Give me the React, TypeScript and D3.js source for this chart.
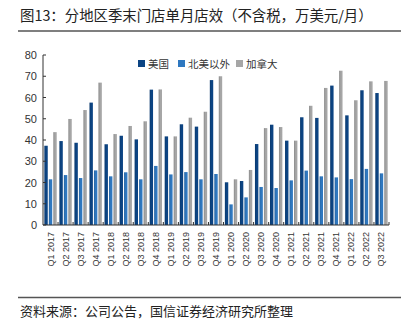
import React from "react";
import * as d3 from "d3";

const categories = [
  "Q1 2017", "Q2 2017", "Q3 2017", "Q4 2017",
  "Q1 2018", "Q2 2018", "Q3 2018", "Q4 2018",
  "Q1 2019", "Q2 2019", "Q3 2019", "Q4 2019",
  "Q1 2020", "Q2 2020", "Q3 2020", "Q4 2020",
  "Q1 2021", "Q2 2021", "Q3 2021", "Q4 2021",
  "Q1 2022", "Q2 2022", "Q3 2022",
];
const usValues = [37.3, 39.5, 38.7, 57.6, 38.0, 42.0, 40.3, 63.7, 41.7, 47.4, 46.3, 68.2, 20.1, 20.7, 38.1, 47.2, 39.7, 50.7, 50.4, 65.6, 51.6, 63.4, 62.1];
const intlValues = [21.5, 23.5, 22.1, 25.7, 22.9, 24.8, 21.5, 27.8, 23.8, 24.9, 21.5, 24.0, 9.7, 13.0, 17.9, 17.4, 21.0, 25.6, 22.9, 22.4, 21.6, 26.4, 24.3];
const caValues = [43.7, 49.9, 54.1, 67.0, 42.8, 46.6, 48.8, 63.8, 41.7, 50.5, 53.3, 70.0, 21.5, 25.9, 45.6, 46.1, 39.7, 56.1, 64.5, 72.6, 58.7, 67.6, 67.8];
const seriesNames = ["美国", "北美以外", "加拿大"];
const yTicks = [0, 10, 20, 30, 40, 50, 60, 70, 80];

const colors = ["#0c4483", "#2f78c0", "#a6a6a6"];
const FONT = "Arial, 'Liberation Sans', 'Noto Sans CJK SC', sans-serif";
const CJK = "'Noto Sans CJK SC', sans-serif";

export default function App() {
  const W = 401, H = 332;
  const left = 43, right = 389, top = 55, bottom = 225;
  const x = d3.scaleBand<string>().domain(categories).range([left, right]).paddingInner(0).paddingOuter(0);
  const inner = d3.scaleBand<number>().domain([0, 1, 2]).range([0, x.bandwidth()]).paddingInner(0).paddingOuter(0.18);
  const y = d3.scaleLinear().domain([0, 80]).range([bottom, top]);
  const series = [usValues, intlValues, caValues];
  const bw = 3.4;
  const legendX = [138, 178, 236];

  return (
    <svg width={W} height={H} style={{ position: "absolute", left: 0, top: 0, background: "#fff" }}>
      <defs>
        {colors.map((c, i) => (
          <linearGradient key={i} id={`g${i}`} x1="0" x2="1" y1="0" y2="0">
            <stop offset="0" stopColor={d3.color(c)!.darker(0.5).toString()} />
            <stop offset="0.5" stopColor={c} />
            <stop offset="1" stopColor={c} />
          </linearGradient>
        ))}
      </defs>
      <text x={20} y={21} fontFamily={CJK} fontSize={14.4} fill="#222">图13：分地区季末门店单月店效（不含税，万美元/月）</text>
      <line x1={18} x2={401} y1={31} y2={31} stroke="#555" strokeWidth={1.3} />

      {categories.map((c, i) =>
        series.map((s, k) => {
          const bx = (x(c) as number) + (inner(k) as number) + (inner.bandwidth() - bw) / 2;
          return (
            <rect key={`${i}-${k}`} x={bx} y={y(s[i])} width={bw} height={bottom - y(s[i])} fill={`url(#g${k})`} />
          );
        })
      )}

      <line x1={left} x2={left} y1={top} y2={bottom} stroke="#333" strokeWidth={1} />
      {yTicks.map((t) => (
        <g key={t}>
          <line x1={left} x2={left + 3} y1={y(t)} y2={y(t)} stroke="#333" />
          <text x={37} y={y(t) + 4} textAnchor="end" fontFamily={FONT} fontSize={11} fill="#333">{t}</text>
        </g>
      ))}

      <line x1={left} x2={right} y1={bottom} y2={bottom} stroke="#333" strokeWidth={1.2} />
      {categories.map((c, i) => (
        <line key={`t${i}`} x1={(x(c) as number) + x.bandwidth()} x2={(x(c) as number) + x.bandwidth()} y1={bottom} y2={bottom - 3} stroke="#333" />
      ))}
      {categories.map((c) => {
        const cx = (x(c) as number) + x.bandwidth() / 2;
        return (
          <text key={c} transform={`translate(${cx + 3},${232}) rotate(-90)`} textAnchor="end" fontFamily={FONT} fontSize={9} fill="#333">{c}</text>
        );
      })}

      {seriesNames.map((n, k) => (
        <g key={n}>
          <rect x={legendX[k]} y={60} width={7} height={7} fill={colors[k]} />
          <text x={legendX[k] + 10} y={67.5} fontFamily={CJK} fontSize={10.5} fill="#333">{n}</text>
        </g>
      ))}

      <line x1={18} x2={401} y1={297.5} y2={297.5} stroke="#555" strokeWidth={1.3} />
      <text x={20} y={316} fontFamily={CJK} fontSize={13} fill="#222">资料来源：公司公告，国信证券经济研究所整理</text>
    </svg>
  );
}
